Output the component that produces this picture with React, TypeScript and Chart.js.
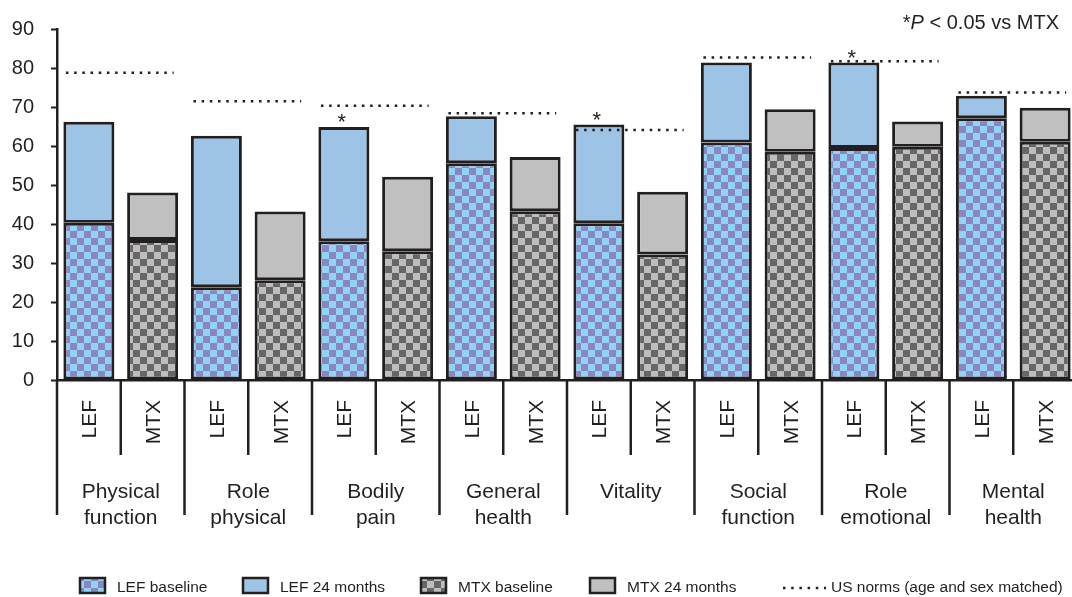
import React, { useEffect, useRef } from 'react';
import { Chart, registerables } from 'chart.js';

Chart.register(...registerables);

// ---------- data ----------
const groupLabels: string[][] = [
  ['Physical', 'function'],
  ['Role', 'physical'],
  ['Bodily', 'pain'],
  ['General', 'health'],
  ['Vitality'],
  ['Social', 'function'],
  ['Role', 'emotional'],
  ['Mental', 'health'],
];
const armLabels = ['LEF', 'MTX'];
const lefBaseline = [40.3, 23.8, 35.6, 55.6, 40.2, 60.9, 59.5, 67.1];
const lef24Months = [66.2, 62.6, 64.9, 67.6, 65.5, 81.4, 81.4, 72.9];
const mtxBaseline = [35.9, 25.6, 33.0, 43.3, 32.2, 58.5, 59.8, 61.1];
const mtx24Months = [48.1, 43.2, 52.1, 57.2, 48.3, 69.4, 66.3, 69.8];
const usNorms = [78.8, 71.5, 70.3, 68.4, 64.1, 82.7, 81.7, 73.7];
const significantLef = [false, false, true, false, true, false, true, false];
const yTickValues = [0, 10, 20, 30, 40, 50, 60, 70, 80, 90];
const legendLabels = ['LEF baseline', 'LEF 24 months', 'MTX baseline', 'MTX 24 months', 'US norms (age and sex matched)'];
const noteParts = ['*', 'P', ' < 0.05 vs MTX'];

// ---------- styles ----------
const INK = '#231f20';
const FONT = '"Liberation Sans", Arial, Helvetica, sans-serif';
const LEF_SOLID = '#9dc4e7';
const MTX_SOLID = '#c0c0c0';
const DOTS = [2.5, 5.7];

function makeChecker(a: string, b: string, size: number): CanvasPattern {
  const c = document.createElement('canvas');
  c.width = size * 2;
  c.height = size * 2;
  const g = c.getContext('2d')!;
  g.fillStyle = a;
  g.fillRect(0, 0, size * 2, size * 2);
  g.fillStyle = b;
  g.fillRect(size, 0, size, size);
  g.fillRect(0, size, size, size);
  return g.createPattern(c, 'repeat')!;
}

export default function App() {
  const ref = useRef<HTMLCanvasElement | null>(null);

  useEffect(() => {
    const canvas = ref.current;
    if (!canvas) return;
    const lefChecker = makeChecker('#8fd4f4', '#8b85c1', 7);
    const mtxChecker = makeChecker('#bdbdbd', '#666666', 7);

    const categoryLabels = groupLabels.flatMap(() => armLabels);
    const baselineData = lefBaseline.flatMap((v, g) => [v, mtxBaseline[g]]);
    const month24Data = lef24Months.flatMap((v, g) => [
      [lefBaseline[g], v],
      [mtxBaseline[g], mtx24Months[g]],
    ]);
    const baselineFills = groupLabels.flatMap(() => [lefChecker, mtxChecker]);
    const month24Fills = groupLabels.flatMap(() => [LEF_SOLID, MTX_SOLID]);

    const overlay = {
      id: 'overlay',
      afterDatasetsDraw(chart: any) {
        // US norms dotted lines, positioned through the chart's scales
        const ctx: CanvasRenderingContext2D = chart.ctx;
        const xs = chart.scales.x;
        const ys = chart.scales.y;
        const catW = xs.getPixelForValue(1) - xs.getPixelForValue(0);
        ctx.save();
        ctx.strokeStyle = INK;
        ctx.lineWidth = 2.5;
        ctx.lineCap = 'butt';
        ctx.setLineDash(DOTS);
        usNorms.forEach((v, g) => {
          const y = ys.getPixelForValue(v);
          const x0 = xs.getPixelForValue(2 * g) - 0.36 * catW;
          const x1 = xs.getPixelForValue(2 * g + 1) + 0.33 * catW;
          ctx.beginPath();
          ctx.moveTo(x0, y);
          ctx.lineTo(x1, y);
          ctx.stroke();
        });
        ctx.restore();
      },
      afterDraw(chart: any) {
        const ctx: CanvasRenderingContext2D = chart.ctx;
        const xs = chart.scales.x;
        const ys = chart.scales.y;
        const area = chart.chartArea;
        const axisY = area.bottom;
        const catW = xs.getPixelForValue(1) - xs.getPixelForValue(0);
        ctx.save();
        ctx.fillStyle = INK;
        ctx.strokeStyle = INK;

        // rotated arm labels
        ctx.font = `21px ${FONT}`;
        const capH = 21 * 0.716;
        categoryLabels.forEach((lab, i) => {
          const x = xs.getPixelForValue(i);
          ctx.save();
          ctx.translate(x + capH / 2, axisY + 20);
          ctx.rotate(-Math.PI / 2);
          ctx.textAlign = 'right';
          ctx.textBaseline = 'alphabetic';
          ctx.fillText(lab, 0, 0);
          ctx.restore();
        });

        // separators
        ctx.lineWidth = 2.5;
        ctx.setLineDash([]);
        for (let g = 0; g <= groupLabels.length; g++) {
          const xg = xs.getPixelForValue(2 * g) - catW / 2;
          ctx.beginPath();
          ctx.moveTo(xg, axisY);
          ctx.lineTo(xg, axisY + 135);
          ctx.stroke();
          if (g < groupLabels.length) {
            const xm = xs.getPixelForValue(2 * g) + catW / 2;
            ctx.beginPath();
            ctx.moveTo(xm, axisY);
            ctx.lineTo(xm, axisY + 75);
            ctx.stroke();
          }
        }

        // group labels
        ctx.font = `21px ${FONT}`;
        ctx.textAlign = 'center';
        ctx.textBaseline = 'alphabetic';
        groupLabels.forEach((lines, g) => {
          const cx = (xs.getPixelForValue(2 * g) + xs.getPixelForValue(2 * g + 1)) / 2;
          lines.forEach((ln, k) => ctx.fillText(ln, cx, axisY + 118 + k * 26));
        });

        // significance asterisks
        ctx.font = `22px ${FONT}`;
        significantLef.forEach((sig, g) => {
          if (!sig) return;
          const x = xs.getPixelForValue(2 * g) - 2;
          const top = ys.getPixelForValue(lef24Months[g]);
          ctx.fillText('*', x, top + 2);
        });

        // note, top right
        ctx.textAlign = 'left';
        const normalFont = `20px ${FONT}`;
        const italicFont = `italic 20px ${FONT}`;
        const widths = noteParts.map((p, i) => {
          ctx.font = i === 1 ? italicFont : normalFont;
          return ctx.measureText(p).width;
        });
        let nx = 1059 - widths.reduce((a, b) => a + b, 0);
        noteParts.forEach((p, i) => {
          ctx.font = i === 1 ? italicFont : normalFont;
          ctx.fillText(p, nx, 29);
          nx += widths[i];
        });

        // legend
        const boxes = [
          { x: 80, fill: lefChecker },
          { x: 243, fill: LEF_SOLID },
          { x: 421, fill: mtxChecker },
          { x: 590, fill: MTX_SOLID },
        ];
        ctx.font = `15.5px ${FONT}`;
        ctx.textAlign = 'left';
        boxes.forEach((b, i) => {
          ctx.fillStyle = b.fill as any;
          ctx.fillRect(b.x, 578, 25, 15);
          ctx.strokeStyle = INK;
          ctx.lineWidth = 2.5;
          ctx.strokeRect(b.x, 578, 25, 15);
          ctx.fillStyle = INK;
          ctx.fillText(legendLabels[i], b.x + 37, 592);
        });
        ctx.lineWidth = 2.5;
        ctx.setLineDash(DOTS);
        ctx.beginPath();
        ctx.moveTo(783, 588);
        ctx.lineTo(826, 588);
        ctx.stroke();
        ctx.setLineDash([]);
        ctx.fillText(legendLabels[4], 831, 592);
        ctx.restore();
      },
    };

    const chart = new Chart(canvas, {
      type: 'bar',
      data: {
        labels: categoryLabels,
        datasets: [
          {
            label: 'Baseline',
            data: baselineData as any,
            backgroundColor: baselineFills as any,
            borderColor: INK,
            borderWidth: 3,
            borderSkipped: false,
            grouped: false,
            barPercentage: 0.8,
            categoryPercentage: 1,
          } as any,
          {
            label: '24 months',
            data: month24Data as any,
            backgroundColor: month24Fills as any,
            borderColor: INK,
            borderWidth: 3,
            borderSkipped: false,
            grouped: false,
            barPercentage: 0.8,
            categoryPercentage: 1,
          } as any,
        ],
      },
      options: {
        responsive: false,
        animation: false,
        events: [],
        layout: { padding: { top: 29, right: 13, bottom: 0, left: 0 } },
        plugins: { legend: { display: false }, tooltip: { enabled: false } },
        scales: {
          x: {
            type: 'category',
            offset: true,
            grid: { display: true, drawOnChartArea: false, drawTicks: false },
            border: { display: true, color: INK, width: 2.5 },
            ticks: { display: false },
            afterFit: (s: any) => {
              s.height = 217;
            },
          },
          y: {
            min: 0,
            max: 90,
            afterBuildTicks: (s: any) => {
              s.ticks = yTickValues.map((v) => ({ value: v }));
            },
            ticks: { color: INK, font: { family: FONT, size: 20 }, padding: 17 },
            grid: { drawOnChartArea: false, drawTicks: true, tickLength: 6, tickColor: INK, tickWidth: 2 },
            border: { display: true, color: INK, width: 2.5 },
            afterFit: (s: any) => {
              s.width = 57;
            },
          },
        } as any,
      },
      plugins: [overlay],
    });
    return () => chart.destroy();
  }, []);

  return (
    <div style={{ position: 'absolute', left: 0, top: 0, width: 1072, height: 597, overflow: 'hidden', background: '#fff' }}>
      <canvas ref={ref} width={1090} height={597} style={{ width: 1090, height: 597, display: 'block' }} />
    </div>
  );
}
